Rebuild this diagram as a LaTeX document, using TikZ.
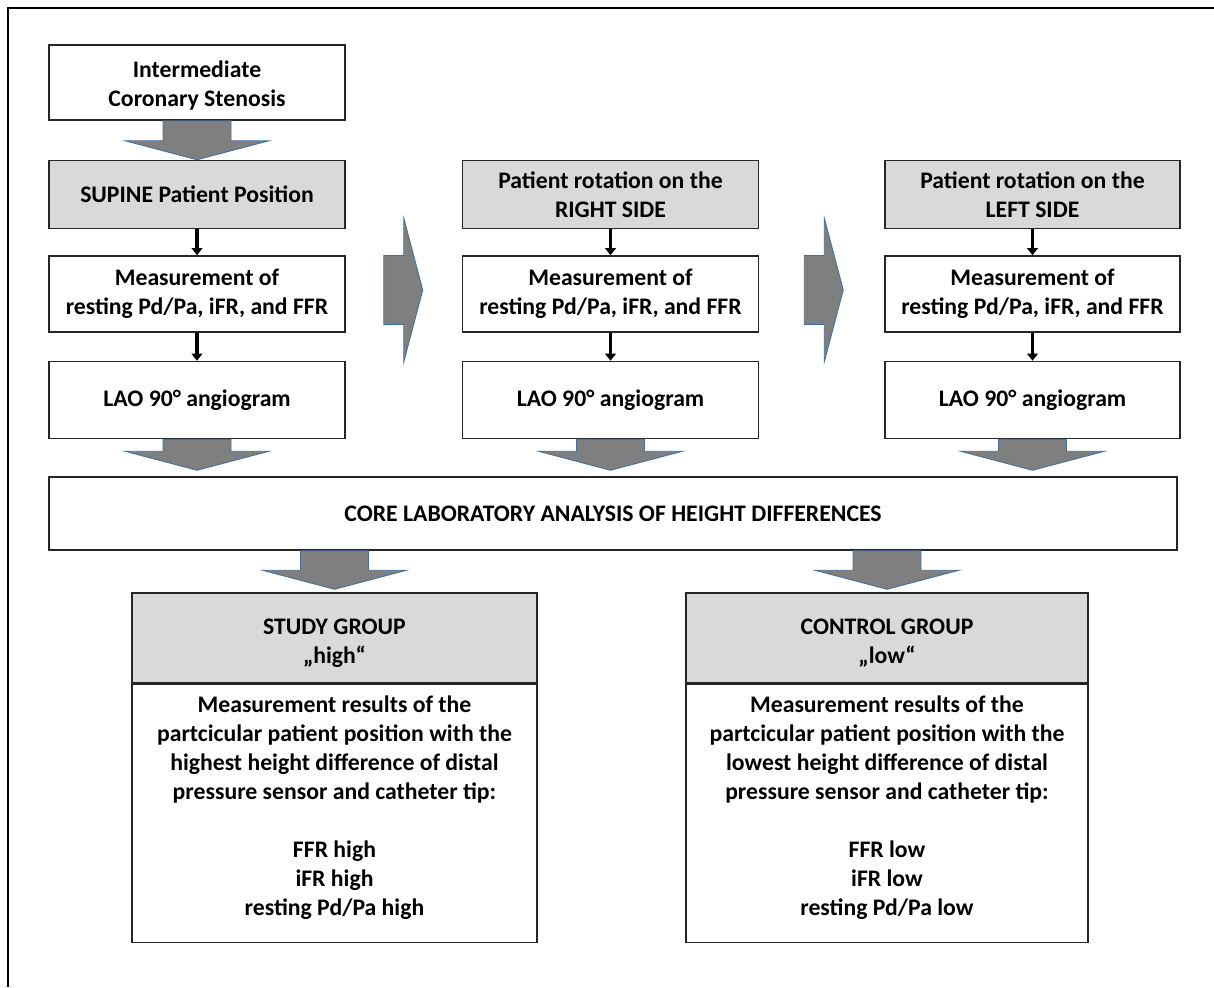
\documentclass[tikz,border=0pt]{standalone}
\usepackage{fontspec}
\setmainfont{Carlito}
\usepackage{tikz}
\usetikzlibrary{positioning,calc,arrows.meta}

\definecolor{headgray}{HTML}{D9D9D9}
\definecolor{arrowgray}{HTML}{7F7F7F}
\definecolor{arrowblue}{HTML}{41719C}

% block arrows: shaft start, tip
\newcommand{\fatdown}[2]{\filldraw[fatarrow] ($(#1)+(-6.8mm,0)$) -- ($(#2)+(-6.8mm,3.8mm)$) -- ($(#2)+(-14.4mm,3.8mm)$) -- (#2) -- ($(#2)+(14.4mm,3.8mm)$) -- ($(#2)+(6.8mm,3.8mm)$) -- ($(#1)+(6.8mm,0)$) -- cycle;}
\newcommand{\fatright}[2]{\filldraw[fatarrow] ($(#1)+(0,6.9mm)$) -- ($(#2)+(-3.8mm,6.9mm)$) -- ($(#2)+(-3.8mm,14.4mm)$) -- (#2) -- ($(#2)+(-3.8mm,-14.4mm)$) -- ($(#2)+(-3.8mm,-6.9mm)$) -- ($(#1)+(0,-6.9mm)$) -- cycle;}

\begin{document}
\begin{tikzpicture}[box/.style={draw=black!85, line width=0.85pt, fill=white, align=center, minimum width=59.2mm, inner sep=1mm, font=\bfseries\fontsize{13.5}{16.5}\selectfont},
	headbox/.style={box, fill=headgray},
	thinarrow/.style={-{Triangle[width=6pt,length=4pt]}, line width=1.8pt},
	fatarrow/.style={fill=arrowgray, draw=arrowblue, line width=0.5pt, line join=miter}]

	\useasboundingbox (0,0) rectangle (242.8mm,-197.4mm);
	\draw[line width=1.1pt] (1.6mm,-197.4mm) -- (1.6mm,-1.6mm) -- (242.8mm,-1.6mm);

	% supine
	\begin{scope}
		\node[box, minimum height=15mm] (sten) at (39.4mm,-16.5mm) {\rule{0pt}{12.5pt}Intermediate\\Coronary Stenosis};
		\node[headbox, minimum height=13.6mm] (sup) [below=7.8mm of sten] {SUPINE Patient Position};
		\node[box, minimum height=15.2mm] (meas1) [below=5.2mm of sup] {Measurement of\\resting Pd/Pa, iFR, and FFR};
		\node[box, minimum height=15.4mm] (lao1) [below=5.6mm of meas1] {LAO 90° angiogram};
		\draw[thinarrow] (sup) -- (meas1);
		\draw[thinarrow] (meas1) -- (lao1);
	\end{scope}

	% right side
	\begin{scope}
		\node[headbox, minimum height=13.6mm] (rgt) [right=23.2mm of sup] {Patient rotation on the\\RIGHT SIDE};
		\node[box, minimum height=15.2mm] (meas2) [below=5.2mm of rgt] {Measurement of\\resting Pd/Pa, iFR, and FFR};
		\node[box, minimum height=15.4mm] (lao2) [below=5.6mm of meas2] {LAO 90° angiogram};
		\draw[thinarrow] (rgt) -- (meas2);
		\draw[thinarrow] (meas2) -- (lao2);
	\end{scope}

	% left side
	\begin{scope}
		\node[headbox, minimum height=13.6mm, minimum width=59mm] (lft) [right=25mm of rgt] {Patient rotation on the\\LEFT SIDE};
		\node[box, minimum height=15.2mm, minimum width=59mm] (meas3) [below=5.2mm of lft] {Measurement of\\resting Pd/Pa, iFR, and FFR};
		\node[box, minimum height=15.4mm, minimum width=59mm] (lao3) [below=5.6mm of meas3] {LAO 90° angiogram};
		\draw[thinarrow] (lft) -- (meas3);
		\draw[thinarrow] (meas3) -- (lao3);
	\end{scope}

	\node[box, minimum width=225.6mm, minimum height=14.6mm] (core) at (122.6mm,-102.7mm) {CORE LABORATORY ANALYSIS OF HEIGHT DIFFERENCES};

	\node[headbox, minimum width=81mm, minimum height=18mm] (study) at (66.9mm,-127.6mm) {\rule{0pt}{14.8pt}STUDY GROUP\\„high“};
	\node[box, minimum width=81mm, minimum height=51.6mm, text depth=9pt, anchor=north] (studyres) at (study.south) {Measurement results of the\\partcicular patient position with the\\highest height difference of distal\\pressure sensor and catheter tip:\\[16.5pt]FFR high\\iFR high\\resting Pd/Pa high};

	\node[headbox, minimum width=80.4mm, minimum height=18mm] (ctrl) at (177.4mm,-127.6mm) {\rule{0pt}{14.8pt}CONTROL GROUP\\„low“};
	\node[box, minimum width=80.4mm, minimum height=51.6mm, text depth=9pt, anchor=north] (ctrlres) at (ctrl.south) {Measurement results of the\\partcicular patient position with the\\lowest height difference of distal\\pressure sensor and catheter tip:\\[16.5pt]FFR low\\iFR low\\resting Pd/Pa low};

	% block arrows
	\coordinate (tip1) at ($(lao1.south |- core.north)+(0,1.2mm)$);
	\coordinate (tip2) at ($(lao2.south |- core.north)+(0,1.2mm)$);
	\coordinate (tip3) at ($(lao3.south |- core.north)+(0,1.2mm)$);
	\coordinate (top4) at (study.north |- core.south);
	\coordinate (tip4) at ($(study.north)+(0,0.6mm)$);
	\coordinate (top5) at (ctrl.north |- core.south);
	\coordinate (tip5) at ($(ctrl.north)+(0,0.6mm)$);
	\coordinate (hs1) at ($(meas1.east)+(7.6mm,0.8mm)$);
	\coordinate (ht1) at ($(meas2.west)+(-7.8mm,0.8mm)$);
	\coordinate (hs2) at ($(meas2.east)+(9mm,0.8mm)$);
	\coordinate (ht2) at ($(meas3.west)+(-8.2mm,0.8mm)$);

	\fatdown{sten.south}{sup.north}
	\fatdown{lao1.south}{tip1}
	\fatdown{lao2.south}{tip2}
	\fatdown{lao3.south}{tip3}
	\fatdown{top4}{tip4}
	\fatdown{top5}{tip5}
	\fatright{hs1}{ht1}
	\fatright{hs2}{ht2}
\end{tikzpicture}
\end{document}
